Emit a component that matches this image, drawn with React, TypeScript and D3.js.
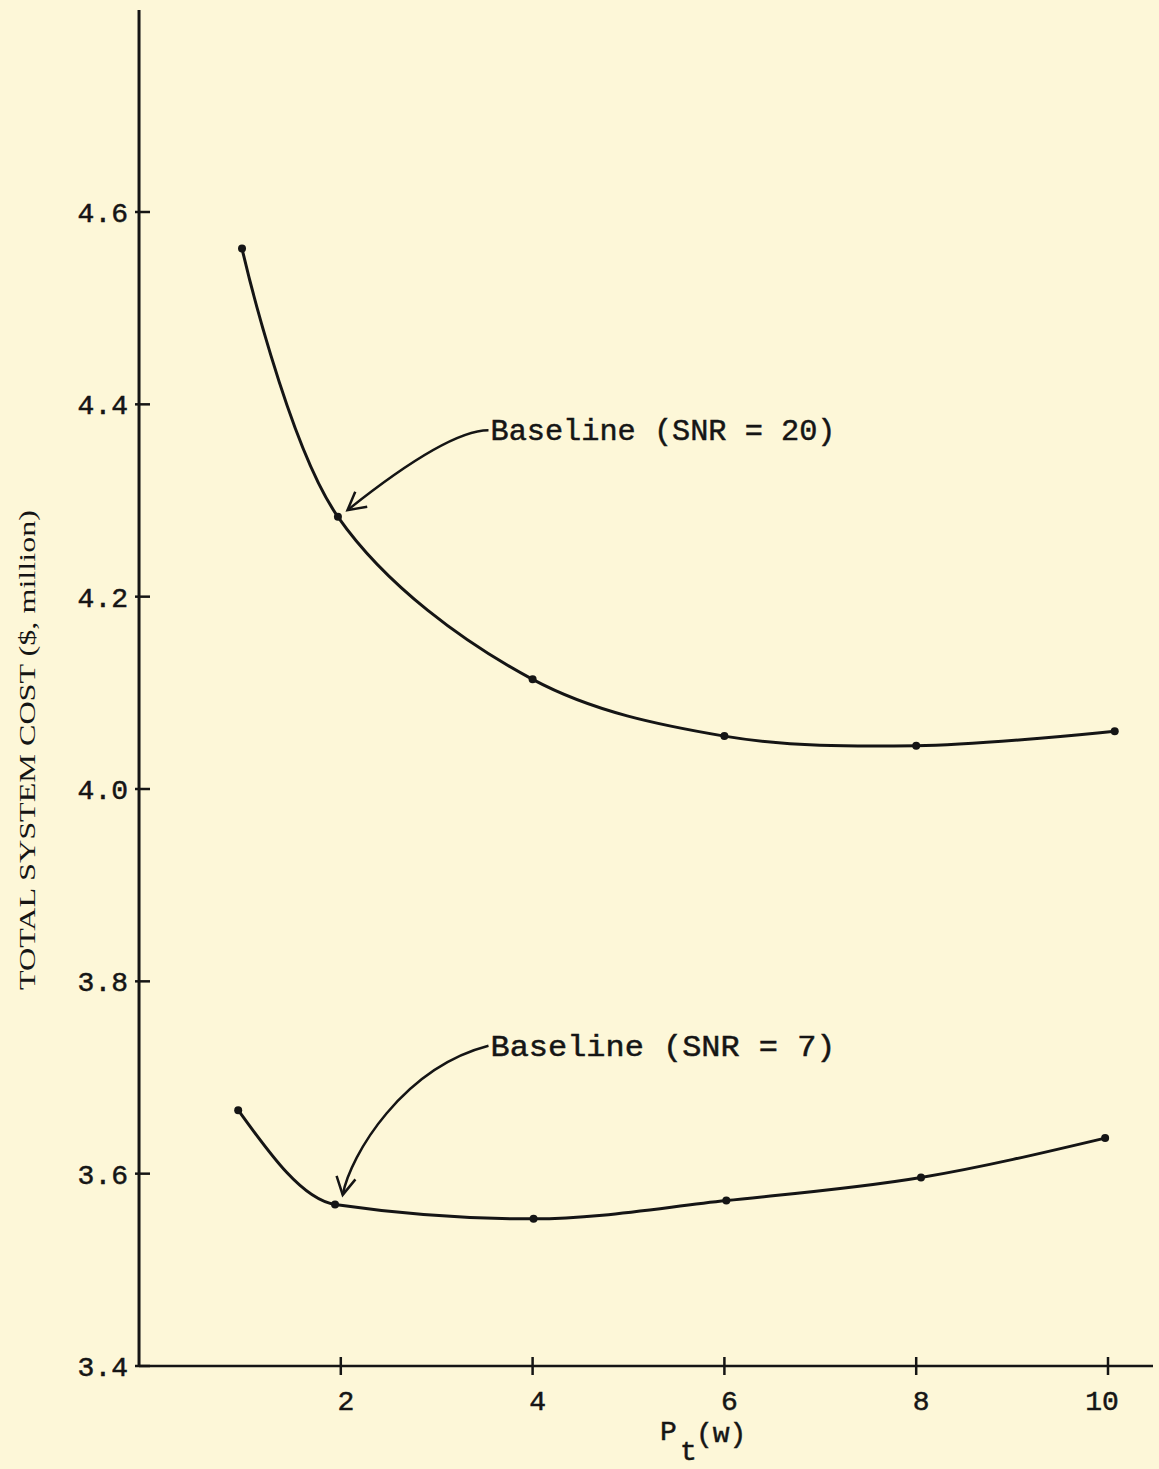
import React from 'react';
import * as d3 from 'd3';

// values
const upperX = [0.97, 1.97, 4.0, 6.0, 8.0, 10.07];
const upperCost = [4.562, 4.283, 4.114, 4.055, 4.045, 4.06];
const lowerX = [0.93, 1.94, 4.01, 6.02, 8.05, 9.97];
const lowerCost = [3.666, 3.568, 3.553, 3.572, 3.596, 3.637];

const xTicks = [2, 4, 6, 8, 10];
const yTicks = [3.4, 3.6, 3.8, 4.0, 4.2, 4.4, 4.6];

const W = 1159;
const H = 1469;
const INK = '#151515';
const PAPER = '#fdf7d8';
const MONO = '"Liberation Mono", "DejaVu Sans Mono", monospace';
const SERIF = '"Liberation Serif", "DejaVu Serif", serif';

const x = d3.scaleLinear().domain([0, 10]).range([149, 1108]);
const y = d3.scaleLinear().domain([3.4, 4.6]).range([1366, 212]);

const axisX = x(-0.104);
const axisY = y(3.4);

const smoothLine = d3
  .line<[number, number]>()
  .x(d => x(d[0]))
  .y(d => y(d[1]))
  .curve(d3.curveCatmullRom.alpha(0.5));

const flatLine = d3
  .line<[number, number]>()
  .x(d => x(d[0]))
  .y(d => y(d[1]))
  .curve(d3.curveMonotoneX);

const upper: [number, number][] = upperX.map((v, i) => [v, upperCost[i]]);
const lower: [number, number][] = lowerX.map((v, i) => [v, lowerCost[i]]);

// annotation arrows in data units: tail, two controls, tip
const arrows = [
  { label: 'Baseline (SNR = 20)', pts: [[3.54, 4.373], [3.3, 4.373], [2.85, 4.352], [2.07, 4.29]], len: 345 },
  { label: 'Baseline (SNR = 7)', pts: [[3.54, 3.733], [2.65, 3.71], [2.1, 3.62], [2.02, 3.578]], len: 345 },
];

function arrowHead(tip: number[], from: number[]) {
  const ang = Math.atan2(from[1] - tip[1], from[0] - tip[0]);
  const L = 20;
  const s = 0.5;
  const a = [tip[0] + L * Math.cos(ang + s), tip[1] + L * Math.sin(ang + s)];
  const b = [tip[0] + L * Math.cos(ang - s), tip[1] + L * Math.sin(ang - s)];
  return `M${a[0]},${a[1]}L${tip[0]},${tip[1]}L${b[0]},${b[1]}`;
}

const textInk = { fill: INK, stroke: INK, strokeWidth: 0.5 };

export default function App() {
  const series = [
    { pts: upper, d: smoothLine(upper) },
    { pts: lower, d: flatLine(lower) },
  ];
  return (
    <svg
      width={W}
      height={H}
      style={{ position: 'absolute', left: 0, top: 0, background: PAPER }}
    >
      <rect width={W} height={H} fill={PAPER} />

      {/* axes */}
      <line x1={axisX} y1={10} x2={axisX} y2={axisY} stroke={INK} strokeWidth={3} />
      <line x1={axisX} y1={axisY} x2={1153} y2={axisY} stroke={INK} strokeWidth={2.5} />

      {yTicks.map(t => (
        <g key={'y' + t}>
          <line x1={axisX - 4} x2={axisX + 11} y1={y(t)} y2={y(t)} stroke={INK} strokeWidth={2.5} />
          <text x={128} y={y(t) + 10} textAnchor="end" fontFamily={MONO} fontSize={28} {...textInk}>
            {t.toFixed(1)}
          </text>
        </g>
      ))}

      {xTicks.map(t => (
        <g key={'x' + t}>
          <line x1={x(t)} x2={x(t)} y1={axisY - 9} y2={axisY + 9} stroke={INK} strokeWidth={2.5} />
          <text
            x={x(t) + (t === 10 ? -6 : 5)}
            y={1410}
            textAnchor="middle"
            fontFamily={MONO}
            fontSize={28}
            {...textInk}
          >
            {t}
          </text>
        </g>
      ))}

      {/* axis titles */}
      <text fontFamily={MONO} fontSize={28} {...textInk}>
        <tspan x={660} y={1440}>P</tspan>
        <tspan x={680} y={1460}>t</tspan>
        <tspan x={696} y={1442}>(w)</tspan>
      </text>
      <text
        transform="translate(35,750) rotate(-90)"
        textAnchor="middle"
        fontFamily={SERIF}
        fontSize={24}
        fill={INK}
        textLength={480}
        lengthAdjust="spacingAndGlyphs"
      >
        TOTAL SYSTEM COST ($, million)
      </text>

      {/* curves */}
      {series.map((s, i) => (
        <g key={'s' + i}>
          <path d={s.d || ''} fill="none" stroke={INK} strokeWidth={3} />
          {s.pts.map((d, j) => (
            <circle key={j} cx={x(d[0])} cy={y(d[1])} r={4} fill={INK} />
          ))}
        </g>
      ))}

      {/* annotations */}
      {arrows.map((a, i) => {
        const p = a.pts.map(d => [x(d[0]), y(d[1])]);
        return (
          <g key={'a' + i}>
            <path
              d={`M${p[0][0]},${p[0][1]}C${p[1][0]},${p[1][1]} ${p[2][0]},${p[2][1]} ${p[3][0]},${p[3][1]}`}
              fill="none"
              stroke={INK}
              strokeWidth={2.5}
            />
            <path d={arrowHead(p[3], p[2])} fill="none" stroke={INK} strokeWidth={2.5} />
            <text
              x={p[0][0] + 2}
              y={p[0][1] + 10}
              fontFamily={MONO}
              fontSize={30}
              textLength={a.len}
              lengthAdjust="spacingAndGlyphs"
              {...textInk}
            >
              {a.label}
            </text>
          </g>
        );
      })}
    </svg>
  );
}
